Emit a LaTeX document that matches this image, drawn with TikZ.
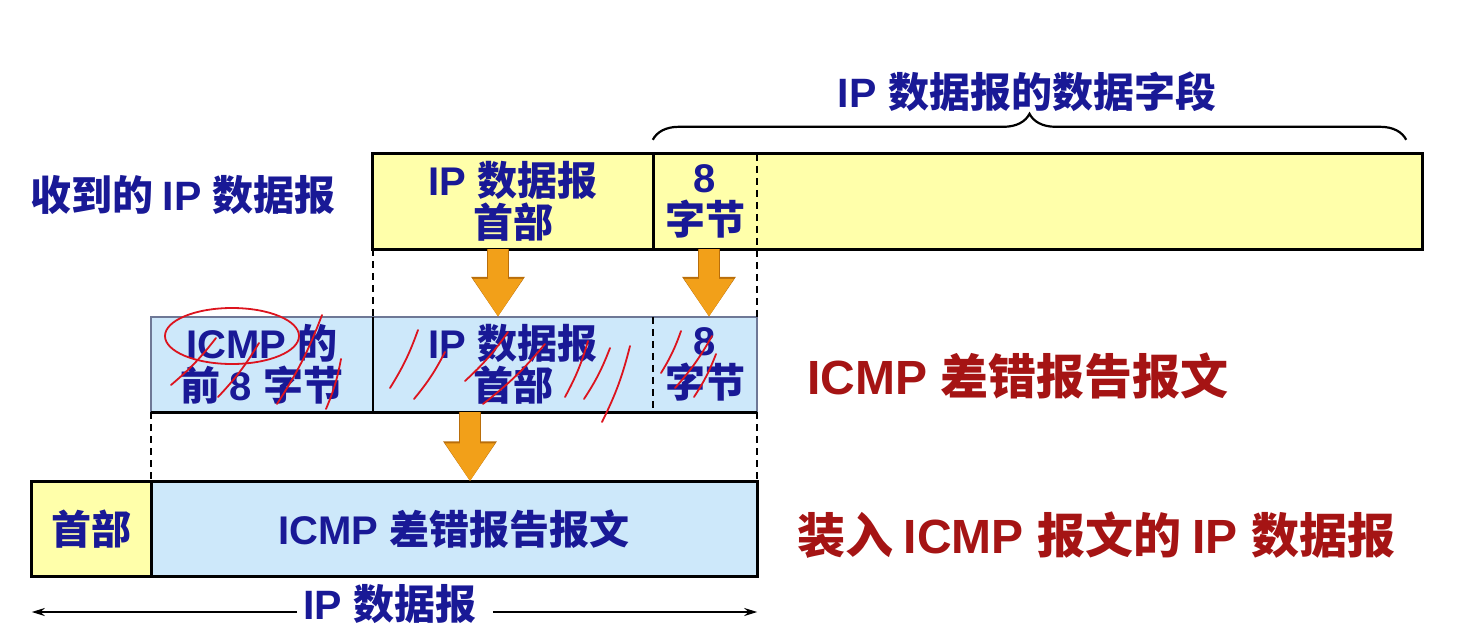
\documentclass[tikz,border=0pt]{standalone}
\usepackage{fontspec}
\setmainfont{Liberation Sans}
\newfontfamily\cjk{Noto Sans CJK SC}
% switch to the CJK family for Chinese characters
\newXeTeXintercharclass\cjkclass
\XeTeXcharclass`收=\cjkclass \XeTeXcharclass`到=\cjkclass \XeTeXcharclass`的=\cjkclass
\XeTeXcharclass`数=\cjkclass \XeTeXcharclass`据=\cjkclass \XeTeXcharclass`报=\cjkclass
\XeTeXcharclass`首=\cjkclass \XeTeXcharclass`部=\cjkclass \XeTeXcharclass`字=\cjkclass
\XeTeXcharclass`节=\cjkclass \XeTeXcharclass`前=\cjkclass \XeTeXcharclass`差=\cjkclass
\XeTeXcharclass`错=\cjkclass \XeTeXcharclass`告=\cjkclass \XeTeXcharclass`文=\cjkclass
\XeTeXcharclass`装=\cjkclass \XeTeXcharclass`入=\cjkclass \XeTeXcharclass`段=\cjkclass
\XeTeXinterchartoks 0 \cjkclass = {\cjk}
\XeTeXinterchartoks 4095 \cjkclass = {\cjk}
\XeTeXinterchartoks \cjkclass 0 = {\rmfamily}
\XeTeXinterchartoks 4095 0 = {\rmfamily}
\XeTeXinterchartokenstate=1
\usetikzlibrary{arrows.meta,decorations.pathreplacing,calc}
\definecolor{dgblue}{RGB}{25,25,150}
\definecolor{dgred}{RGB}{165,20,20}
\definecolor{hdryellow}{RGB}{255,255,170}
\definecolor{msgblue}{RGB}{205,232,250}
\definecolor{arroworange}{RGB}{242,160,25}
\definecolor{arrowedge}{RGB}{185,110,10}
\definecolor{framegrey}{RGB}{110,120,150}
\definecolor{scribred}{RGB}{220,20,30}

\begin{document}
\begin{tikzpicture}[x=1pt, y=-1pt,
    cell/.style={rectangle, minimum height=95pt, inner sep=0pt, align=center,
                 font=\fontsize{40}{42}\selectfont\bfseries, text=dgblue},
    hdrcell/.style={cell, fill=hdryellow},
    msgcell/.style={cell, fill=msgblue},
    caption/.style={font=\fontsize{41}{42}\selectfont\bfseries, text=dgblue, inner sep=2pt},
    redcaption/.style={caption, font=\fontsize{48}{48}\selectfont\bfseries, text=dgred},
    boxline/.style={draw=black, line width=2.8pt},
    guide/.style={draw=black, line width=1.6pt, dash pattern=on 7pt off 5pt},
    movearrow/.style={draw=arroworange, line width=20pt, -{Triangle[width=47pt,length=38pt]},
                      preaction={draw=arrowedge, line width=22pt, -{Triangle[width=51pt,length=40pt]}}},
    spanarrow/.style={-{Stealth[length=13pt,width=8pt]}, line width=1.8pt},
    scribble/.style={draw=scribred, line width=1.8pt, line cap=round}
  ]
    \useasboundingbox (0,0) rectangle (1462,629);

    % received datagram
    \node[hdrcell, minimum width=280pt] (rhdr)  at (513,201.5)    {IP 数据报\\首部};
    \node[hdrcell, minimum width=104pt] (r8)    at (705,201.5)    {8\\字节};
    \node[hdrcell, minimum width=665pt] (rdata) at (1089.5,201.5) {};
    \draw[boxline] (rhdr.north west) rectangle (rdata.south east);
    \draw[boxline] (rhdr.north east) -- (rhdr.south east);

    % icmp error message
    \node[msgcell, minimum width=222pt] (mic)  at (262,364.5) {ICMP 的\\前 8 字节};
    \node[msgcell, minimum width=280pt] (mhdr) at (513,364.5) {IP 数据报\\首部};
    \node[msgcell, minimum width=104pt] (m8)   at (705,364.5) {8\\字节};
    \draw[draw=framegrey, line width=1.6pt] (mic.north west) rectangle (m8.south east);
    \draw[boxline] (mic.south west) -- (m8.south east);
    \draw[draw=black, line width=1.6pt] (mic.north east) -- (mic.south east);
    \draw[guide] (mhdr.north east) -- (mhdr.south east);

    % datagram carrying icmp
    \node[hdrcell, minimum width=119pt] (bhdr) at (91.5,529) {首部};
    \node[msgcell, minimum width=606pt] (bmsg) at (454,529)  {ICMP 差错报告报文};
    \draw[boxline] (bhdr.north west) rectangle (bmsg.south east);
    \draw[boxline] (bhdr.north east) -- (bhdr.south east);

    % guide lines
    \draw[guide] (r8.north east) -- (m8.north east);
    \draw[guide] (rhdr.south west) -- (mhdr.north west);
    \draw[guide] (mic.south west) -- (bmsg.north west);
    \draw[guide] (m8.south east) -- (bmsg.north east);

    % captions
    \node[caption]    (lrecv)  at (183,195)  {收到的 IP 数据报};
    \node[caption]    (ldata)  at (1027,92)  {IP 数据报的数据字段};
    \node[redcaption] (licmp)  at (1018,376) {ICMP 差错报告报文};
    \node[redcaption] (lencap) at (1096,535) {装入 ICMP 报文的 IP 数据报};
    \node[caption]    (ltotal) at (390,604)  {IP 数据报};

    \draw[line width=2.2pt, decorate, decoration={brace, amplitude=26pt}]
      ([yshift=14pt]r8.north west) -- ([xshift=-16pt, yshift=14pt]rdata.north east);

    \coordinate (tl) at ($(bhdr.south west |- ltotal)+(0,8)$);
    \coordinate (tr) at ($(bmsg.south east |- ltotal)+(0,8)$);
    \draw[spanarrow] ([xshift=-4pt]ltotal.west |- tl) -- (tl);
    \draw[spanarrow] ([xshift=14pt]ltotal.east |- tr) -- (tr);

    % moving fields
    \draw[movearrow] ([xshift=-15pt]rhdr.south) -- ([xshift=-15pt]mhdr.north);
    \draw[movearrow] ([xshift=4pt]r8.south)     -- ([xshift=4pt]m8.north);
    \draw[movearrow] ([xshift=-43pt]mhdr.south) -- ([xshift=16pt]bmsg.north);

    % red pen marks
    \draw[scribble] (232,336) ellipse [x radius=67, y radius=28];
    \foreach \xa/\ya/\xb/\yb in {171/385/216/338, 218/397/259/343, 277/404/322/315,
        326/409/341/359, 390/388/418/330, 414/399/445/352, 465/381/508/332,
        483/404/545/344, 565/397/588/341, 584/399/610/348, 602/422/630/346,
        661/373/681/331, 675/388/712/336, 694/397/716/354}
      \draw[scribble] (\xa,\ya) to[bend right=6] (\xb,\yb);
  \end{tikzpicture}
\end{document}
